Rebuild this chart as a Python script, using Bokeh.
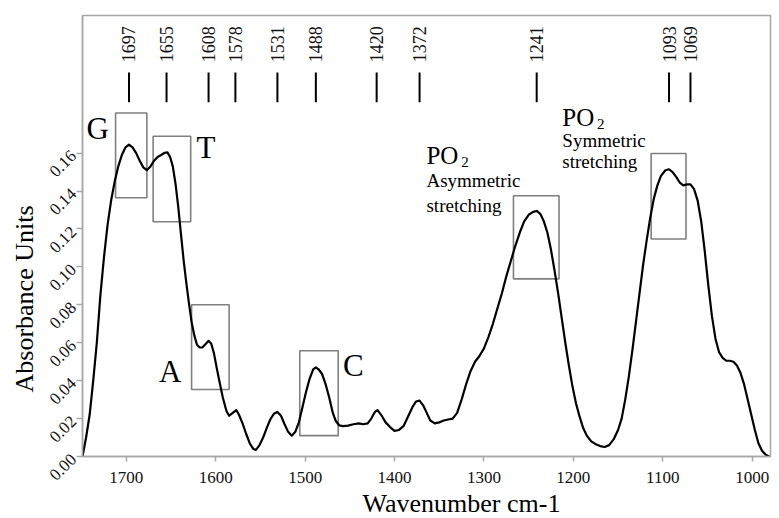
from math import pi

from bokeh.core.properties import value
from bokeh.embed import file_html
from bokeh.models import FixedTicker, Range1d, Title
from bokeh.plotting import figure
from bokeh.resources import INLINE

# FTIR absorbance spectrum (wavenumber in cm-1, absorbance units)
wavenumber = [
    1749, 1745, 1741, 1737, 1733, 1729, 1725, 1721, 1717, 1713, 1709, 1705, 1701,
    1697, 1693, 1689, 1685, 1681, 1677, 1673, 1669, 1665, 1661, 1657, 1654, 1651,
    1648, 1645, 1642, 1639, 1636, 1633, 1630, 1627, 1624, 1621, 1618, 1615, 1612,
    1608, 1605, 1602, 1599, 1596, 1592, 1588, 1585, 1581, 1577, 1574, 1570, 1566,
    1562, 1558, 1555, 1551, 1547, 1543, 1539, 1535, 1531, 1527, 1523, 1519, 1515,
    1511, 1507, 1503, 1499, 1495, 1491, 1488, 1485, 1481, 1477, 1473, 1469, 1466,
    1462, 1458, 1452, 1446, 1440, 1435, 1430, 1426, 1422, 1419, 1415, 1410, 1405,
    1400, 1395, 1390, 1385, 1380, 1376, 1372, 1368, 1364, 1360, 1355, 1350, 1345,
    1340, 1335, 1330, 1325, 1320, 1315, 1310, 1305, 1300, 1295, 1290, 1285, 1280,
    1275, 1270, 1265, 1260, 1255, 1250, 1245, 1241, 1237, 1233, 1229, 1225, 1221,
    1217, 1213, 1209, 1205, 1201, 1197, 1193, 1189, 1185, 1180, 1175, 1170, 1165,
    1160, 1155, 1150, 1146, 1142, 1138, 1134, 1130, 1126, 1122, 1118, 1114, 1110,
    1106, 1102, 1097, 1093, 1089, 1085, 1081, 1077, 1073, 1069, 1065, 1061, 1057,
    1053, 1049, 1045, 1041, 1037, 1033, 1029, 1025, 1021, 1017, 1013, 1009, 1005,
    1001, 997, 993, 989, 985, 981,
]
absorbance = [
    0.000, 0.010, 0.022, 0.040, 0.060, 0.085, 0.105, 0.122, 0.135, 0.145, 0.153, 0.159, 0.163,
    0.1645, 0.163, 0.160, 0.156, 0.1525, 0.151, 0.153, 0.156, 0.158, 0.159, 0.1602, 0.1604, 0.158,
    0.153, 0.144, 0.132, 0.118, 0.104, 0.092, 0.081, 0.071, 0.064, 0.059, 0.0575, 0.0575, 0.059,
    0.061, 0.0595, 0.0545, 0.047, 0.040, 0.031, 0.024, 0.0215, 0.023, 0.0245, 0.022, 0.0175, 0.012,
    0.007, 0.004, 0.0035, 0.006, 0.010, 0.015, 0.0195, 0.0225, 0.0235, 0.0215, 0.017, 0.013, 0.011,
    0.013, 0.018, 0.026, 0.034, 0.041, 0.046, 0.047, 0.046, 0.0435, 0.038, 0.031, 0.023, 0.019,
    0.0165, 0.016, 0.0163, 0.017, 0.0175, 0.017, 0.0175, 0.020, 0.0235, 0.0245, 0.022, 0.018, 0.0155,
    0.0135, 0.014, 0.016, 0.021, 0.026, 0.029, 0.0295, 0.027, 0.023, 0.019, 0.0175, 0.018, 0.019,
    0.0195, 0.020, 0.023, 0.030, 0.038, 0.045, 0.050, 0.053, 0.057, 0.063, 0.070, 0.078, 0.086,
    0.095, 0.103, 0.111, 0.118, 0.124, 0.1275, 0.129, 0.1295, 0.128, 0.124, 0.118, 0.109, 0.098,
    0.086, 0.073, 0.060, 0.048, 0.037, 0.028, 0.021, 0.015, 0.011, 0.008, 0.0065, 0.0055, 0.005,
    0.006, 0.009, 0.014, 0.020, 0.030, 0.042, 0.056, 0.071, 0.086, 0.101, 0.114, 0.126, 0.136,
    0.143, 0.148, 0.151, 0.1515, 0.150, 0.1475, 0.1445, 0.143, 0.1435, 0.1435, 0.141, 0.135, 0.124,
    0.108, 0.090, 0.074, 0.062, 0.055, 0.052, 0.0505, 0.0505, 0.050, 0.048, 0.044, 0.038, 0.030,
    0.022, 0.014, 0.007, 0.003, 0.001, 0.000,
]

# assigned band positions marked along the top
peak_positions = [1697, 1655, 1608, 1578, 1531, 1488, 1420, 1372, 1241, 1093, 1069]
peak_labels = [str(v) for v in peak_positions]

# highlighted regions: G, T, A, C bases and the two PO2 stretching bands
box_left = [1712, 1670, 1627, 1506, 1267, 1113]
box_right = [1677, 1628, 1585, 1463, 1216, 1074]
box_bottom = [0.1365, 0.1238, 0.0353, 0.0110, 0.0937, 0.1147]
box_top = [0.1812, 0.1689, 0.0800, 0.0558, 0.1375, 0.1598]

base_letters = ["G", "T", "A", "C"]
base_letter_x = [1732, 1611, 1651, 1446]
base_letter_y = [0.1732, 0.1632, 0.0447, 0.0479]

x_ticks = [1700, 1600, 1500, 1400, 1300, 1200, 1100, 1000]
y_ticks = [0.00, 0.02, 0.04, 0.06, 0.08, 0.10, 0.12, 0.14, 0.16]
y_tick_labels = ["0.00", "0.02", "0.04", "0.06", "0.08", "0.10", "0.12", "0.14", "0.16"]

SERIF = "Liberation Serif"
FRAME_GREY = "#a8a8a8"

p = figure(
    width=779, height=518,
    x_range=Range1d(1749, 979.5), y_range=Range1d(0, 0.2326),
    output_backend="svg", toolbar_location=None,
    min_border_left=82, min_border_right=9, min_border_top=15, min_border_bottom=61,
)
p.xgrid.visible = False
p.ygrid.visible = False
p.outline_line_color = FRAME_GREY
p.outline_line_width = 1.5
p.background_fill_color = "white"
p.border_fill_color = "white"

for ax in (p.xaxis[0], p.yaxis[0]):
    ax.axis_line_color = FRAME_GREY
    ax.axis_line_width = 1.5
    ax.major_tick_line_color = FRAME_GREY
    ax.major_tick_line_width = 1.5
    ax.major_tick_in = 0
    ax.minor_tick_line_color = None
    ax.major_label_text_font = SERIF
    ax.major_label_text_font_size = "17px"
    ax.major_label_text_color = "#111111"

p.xaxis.ticker = FixedTicker(ticks=x_ticks)
p.xaxis.major_tick_out = 5
p.xaxis.major_label_standoff = 10

p.yaxis.ticker = FixedTicker(ticks=y_ticks)
p.yaxis.major_label_overrides = {t: s for t, s in zip(y_ticks, y_tick_labels)}
p.yaxis.major_tick_out = 6
p.yaxis.major_label_orientation = pi / 4
p.yaxis.major_label_standoff = 3
p.yaxis.major_label_text_baseline = "alphabetic"

# highlight boxes
p.quad(left=box_left, right=box_right, bottom=box_bottom, top=box_top,
       fill_alpha=0, line_color="#808080", line_width=1.6)

# spectrum
p.line(wavenumber, absorbance, line_color="black", line_width=2.2, line_join="round")

# band markers and their labels
p.segment(x0=peak_positions, y0=[0.1868] * len(peak_positions),
          x1=peak_positions, y1=[0.2026] * len(peak_positions),
          line_color="black", line_width=2)
p.text(x=peak_positions, y=[0.2079] * len(peak_positions), text=peak_labels,
       angle=pi / 2, text_align="left", text_baseline="middle",
       text_font=value(SERIF), text_font_size="18px", text_color="#111111")

# base letters
p.text(x=base_letter_x, y=base_letter_y, text=base_letters,
       text_align="center", text_baseline="middle",
       text_font=value(SERIF), text_font_size="31px", text_color="black")

# PO2 band annotations
def po2_note(x, y_po, x_sub, y_sub, line1, y1, line2, y2):
    p.text(x=[x], y=[y_po], text=["PO"], text_align="left", text_baseline="alphabetic",
           text_font=value(SERIF), text_font_size="25px", text_color="black")
    p.text(x=[x_sub], y=[y_sub], text=["2"], text_align="left", text_baseline="alphabetic",
           text_font=value(SERIF), text_font_size="15px", text_color="black")
    p.text(x=[x, x], y=[y1, y2], text=[line1, line2], text_align="left",
           text_baseline="alphabetic", text_font=value(SERIF),
           text_font_size="19px", text_color="black")

po2_note(1364.3, 0.1590, 1325.5, 0.1553, "Asymmetric", 0.1455, "stretching", 0.1325)
po2_note(1212.3, 0.1790, 1173.5, 0.1753, "Symmetric", 0.1665, "stretching", 0.1555)

# axis titles, shifted along their axes
p.add_layout(Title(text="Wavenumber cm-1", align="left", offset=280, standoff=2,
                   text_font=SERIF, text_font_size="26px", text_font_style="normal",
                   text_color="black"), "below")
p.add_layout(Title(text="Absorbance Units", align="left", offset=64, standoff=6,
                   text_font=SERIF, text_font_size="26px", text_font_style="normal",
                   text_color="black"), "left")

open("out.html", "w").write(file_html(p, INLINE))
